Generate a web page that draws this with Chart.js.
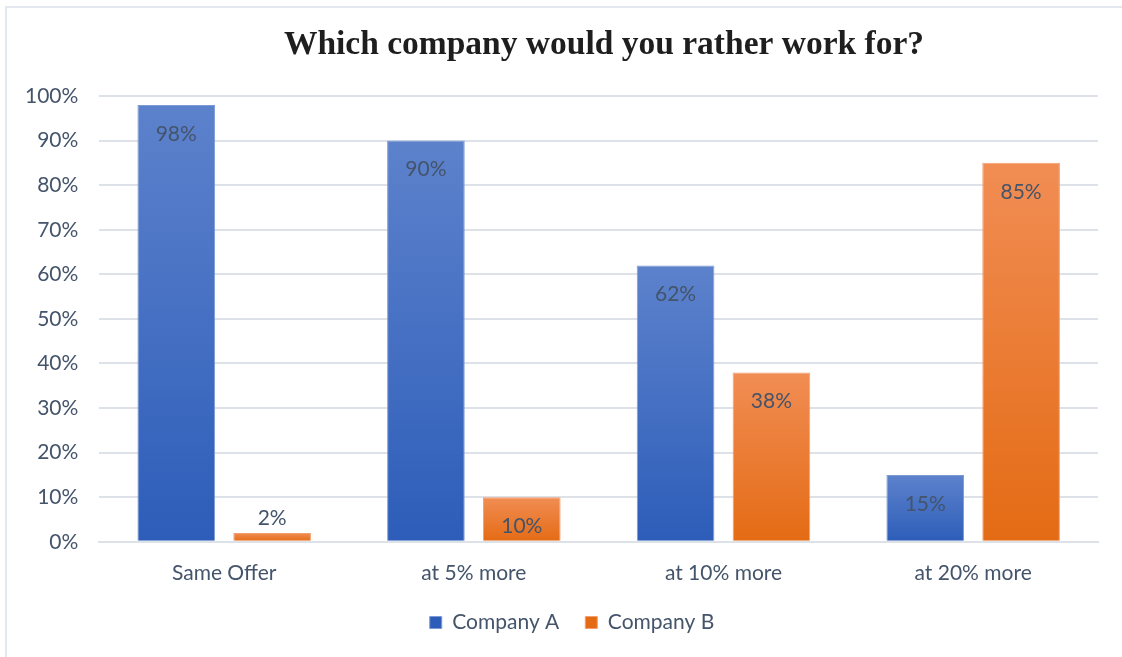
<!DOCTYPE html>
<html>
<head>
<meta charset="utf-8">
<script src="https://cdn.jsdelivr.net/npm/chart.js@4.4.1/dist/chart.umd.min.js"></script>
<style>
  html, body { margin: 0; padding: 0; background: #fff; }
  #wrap {
    position: relative;
    width: 1122px;
    height: 657px;
  }
  #frame {
    position: absolute;
    left: 5px; top: 6px; right: 0; bottom: 0;
    border-left: 2px solid #e3e7ee;
    border-top: 2px solid #e3e7ee;
    pointer-events: none;
  }
</style>
</head>
<body>
<div id="wrap">
  <canvas id="chart" width="1122" height="657"></canvas>
  <div id="frame"></div>
</div>
<script>
// Survey: which company would you rather work for?
const categories = ['Same Offer', 'at 5% more', 'at 10% more', 'at 20% more'];
const companyA = [98, 90, 62, 15];
const companyB = [2, 10, 38, 85];
const chartTitle = 'Which company would you rather work for?';

const textColor = '#44546a';
const gridColor = '#dde1e8';
const font = 'Lato, "Open Sans", sans-serif';

// vertical gradient from the top of each bar down to the axis
function barGradient(top, bottom) {
  return function (ctx) {
    const chart = ctx.chart;
    const y = chart.scales && chart.scales.y;
    if (!y || ctx.parsed == null || ctx.parsed.y == null) return bottom;
    const y0 = y.getPixelForValue(ctx.parsed.y);
    const y1 = y.getPixelForValue(0);
    if (!isFinite(y0) || !isFinite(y1) || y0 === y1) return bottom;
    const g = chart.ctx.createLinearGradient(0, y0, 0, y1);
    g.addColorStop(0, top);
    g.addColorStop(1, bottom);
    return g;
  };
}

// percent labels near the top of each bar, above it when the bar is too short
const valueLabels = {
  id: 'valueLabels',
  afterDatasetsDraw(chart) {
    const c = chart.ctx;
    c.save();
    c.font = '21px ' + font;
    c.fillStyle = textColor;
    c.textAlign = 'center';
    c.textBaseline = 'middle';
    chart.data.datasets.forEach((ds, i) => {
      chart.getDatasetMeta(i).data.forEach((bar, j) => {
        const h = bar.base - bar.y;
        const ty = h > 40 ? bar.y + 29 : bar.y - 15;
        c.fillText(ds.data[j] + '%', bar.x, ty);
      });
    });
    c.restore();
  }
};

// serif heading, sits a little right of centre over the plot
const heading = {
  id: 'heading',
  afterDraw(chart) {
    const c = chart.ctx;
    c.save();
    c.font = 'bold 33.5px "Liberation Serif", "Times New Roman", serif';
    c.fillStyle = '#1e1e1e';
    c.textAlign = 'center';
    c.textBaseline = 'middle';
    c.fillText(chartTitle, 604, 45);
    c.restore();
  }
};

// nudge the legend right so it sits under the middle of the bars
const legendShift = {
  id: 'legendShift',
  afterLayout(chart) {
    if (chart.legend) {
      chart.legend.left += 21;
      chart.legend.right += 21;
    }
  }
};

new Chart(document.getElementById('chart'), {
  type: 'bar',
  data: {
    labels: categories,
    datasets: [{
      label: 'Company A',
      data: companyA,
      backgroundColor: barGradient('#5d82cc', '#2d5db9'),
      borderColor: '#7d9ad6',
      borderWidth: 1,
      categoryPercentage: 0.768,
      barPercentage: 0.81
    }, {
      label: 'Company B',
      data: companyB,
      backgroundColor: barGradient('#f18d54', '#e46b14'),
      borderColor: '#f3a06e',
      borderWidth: 1,
      categoryPercentage: 0.768,
      barPercentage: 0.81
    }]
  },
  options: {
    responsive: false,
    animation: false,
    layout: { padding: { left: 4, right: 24, top: 96, bottom: 14 } },
    plugins: {
      title: { display: false },
      legend: {
        position: 'bottom',
        labels: {
          color: textColor,
          font: { family: font, size: 21 },
          boxWidth: 12,
          boxHeight: 12,
          padding: 26
        }
      },
      tooltip: { enabled: false }
    },
    scales: {
      x: {
        grid: { display: false },
        border: { color: gridColor, width: 2 },
        ticks: { color: textColor, font: { family: font, size: 21 }, padding: 11 },
        afterFit(scale) { scale.height -= 11; }
      },
      y: {
        min: 0,
        max: 100,
        grid: { color: gridColor, lineWidth: 2, drawTicks: false },
        border: { display: false },
        ticks: {
          stepSize: 10,
          color: textColor,
          font: { family: font, size: 21 },
          padding: 21,
          callback: v => v + '%'
        }
      }
    }
  },
  plugins: [valueLabels, heading, legendShift]
});
</script>
</body>
</html>
